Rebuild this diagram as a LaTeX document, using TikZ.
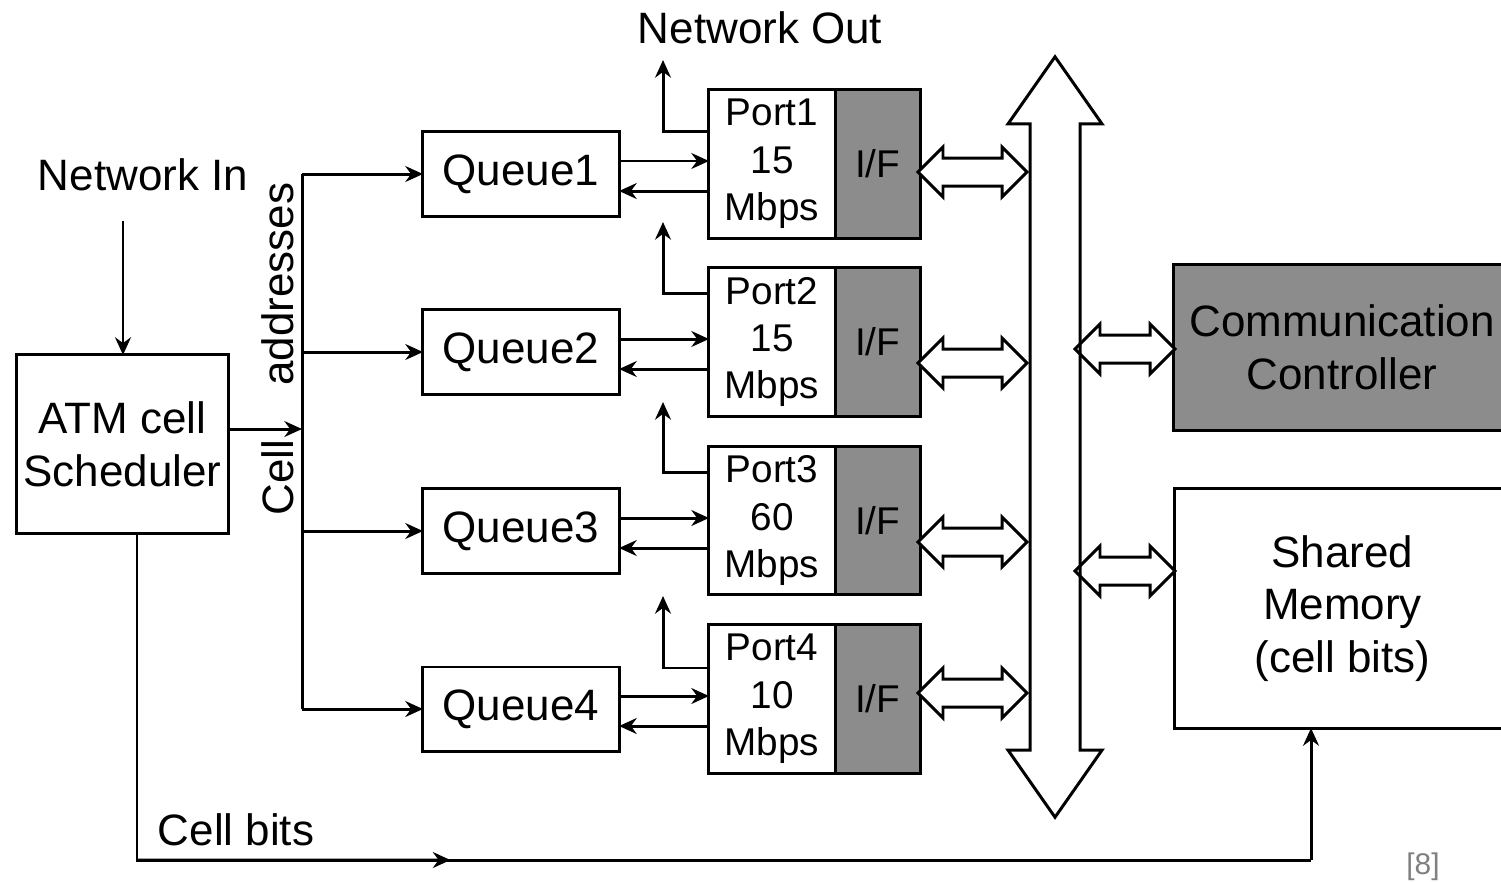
\documentclass[tikz,border=0pt]{standalone}
\usepackage{fontspec}
\setmainfont{Liberation Sans}
\usepackage{xcolor}
\usetikzlibrary{shapes.arrows, arrows.meta, positioning, calc}
\definecolor{ifgray}{RGB}{140,140,140}

\begin{document}
\begin{tikzpicture}[x=0.01cm, y=-0.01cm, line width=0.85pt]
	% Styles
	\tikzstyle{box} = [draw, rectangle, outer sep=0pt, inner sep=0pt, align=center, font=\fontsize{12.5}{15}\selectfont]
	\tikzstyle{queue} = [box, minimum width=1.96cm, minimum height=0.84cm]
	\tikzstyle{port} = [box, minimum width=1.26cm, minimum height=1.48cm, font=\fontsize{11}{13.5}\selectfont]
	\tikzstyle{iface} = [port, fill=ifgray, minimum width=0.85cm]
	\tikzstyle{txt} = [inner sep=0pt, align=center, font=\fontsize{12.5}{15}\selectfont]
	\tikzstyle{hollow} = [draw, fill=white, shape=double arrow, double arrow tip angle=90, double arrow head extend=0.11cm, inner xsep=0pt, inner ysep=0.125cm]
	\tikzstyle{arrow} = [->, >={Stealth[length=5pt,width=4.5pt]}]

	\useasboundingbox (0,0) rectangle (1501,881);

	% Nodes
	\node (atm) [box, minimum width=2.11cm, minimum height=1.78cm] at (122.5,444) {ATM cell\\Scheduler};
	\node (netin) [txt] at (143,175) {Network In};
	\node (netout) [txt] at (760,28) {Network Out};
	\node (celladdr) [txt, rotate=90] at (278,349) {Cell\hspace{0.42cm} addresses};

	\node (q1) [queue] at (521,174) {Queue1};
	\node (q2) [queue] at (521,352) {Queue2};
	\node (q3) [queue] at (521,531) {Queue3};
	\node (q4) [queue] at (521,709) {Queue4};

	\node (p1) [port] at (772,164) {Port1\\15\\Mbps};
	\node (if1) [iface, right=0pt of p1] {I/F};
	\node (p2) [port] at (772,342) {Port2\\15\\Mbps};
	\node (if2) [iface, right=0pt of p2] {I/F};
	\node (p3) [port] at (772,520.5) {Port3\\60\\Mbps};
	\node (if3) [iface, right=0pt of p3] {I/F};
	\node (p4) [port] at (772,699) {Port4\\10\\Mbps};
	\node (if4) [iface, right=0pt of p4] {I/F};

	\node (cc) [box, fill=ifgray, minimum width=3.36cm, minimum height=1.65cm] at (1342,347.5) {Communication\\Controller};
	\node (mem) [box, minimum width=3.35cm, minimum height=2.39cm] at (1342.5,608.5) {Shared\\Memory\\(cell bits)};

	% Bus links
	\node (l1) [hollow, minimum height=1.09cm] at (972.5,172) {};
	\node (l2) [hollow, minimum height=1.09cm] at (972.5,363) {};
	\node (l3) [hollow, minimum height=1.09cm] at (972.5,542) {};
	\node (l4) [hollow, minimum height=1.09cm] at (972.5,693) {};
	\node (lcc) [hollow, minimum height=1.0cm] at (1125,349) {};
	\node (lmem) [hollow, minimum height=1.0cm] at (1125,571) {};
	\node (bus) [hollow, fill=none, rotate=90, minimum height=7.6cm, inner ysep=0.235cm, double arrow head extend=0.22cm, double arrow tip angle=70] at (1055,437) {};

	% Connections
	\coordinate (inpt) at (123,221);
	\draw [arrow] (inpt) -- (inpt |- atm.north);

	\coordinate (split) at (302,429);
	\draw [arrow] (atm.east |- split) -- (split);
	\draw (split |- q1) -- (split |- q4);
	\foreach \i in {1,...,4} {
		\draw [arrow] (split |- q\i) -- (q\i);
		\draw [arrow] ([yshift=0.13cm]q\i.east) -- ([yshift=0.13cm]q\i.east -| p\i.west);
		\draw [arrow] ([yshift=-0.17cm]q\i.east -| p\i.west) -- ([yshift=-0.17cm]q\i.east);
	}

	\coordinate (o1) at (663,60);
	\coordinate (o2) at (663,222);
	\coordinate (o3) at (663,402);
	\coordinate (o4) at (663,596);
	\draw [arrow] ([yshift=0.32cm]p1.west) -| (o1);
	\draw [arrow] ([yshift=0.48cm]p2.west) -| (o2);
	\draw [arrow] ([yshift=0.475cm]p3.west) -| (o3);
	\draw [arrow] ([yshift=0.31cm]p4.west) -| (o4);

	\coordinate (cb1) at (137,860);
	\coordinate (cb2) at (1311,860);
	\draw (cb1 |- atm.south) -- (cb1) -- (cb2);
	\draw [arrow] (cb2) -- (cb2 |- mem.south);
	\draw [arrow] (cb1) -- ($(cb1)!0.267!(cb2)$);
	\node (cblabel) [txt] at (236,830) {Cell bits};

	\node (ref) [inner sep=0pt, text=gray, font=\fontsize{8.5}{10}\selectfont] at (1423,867) {[8]};
\end{tikzpicture}
\end{document}
